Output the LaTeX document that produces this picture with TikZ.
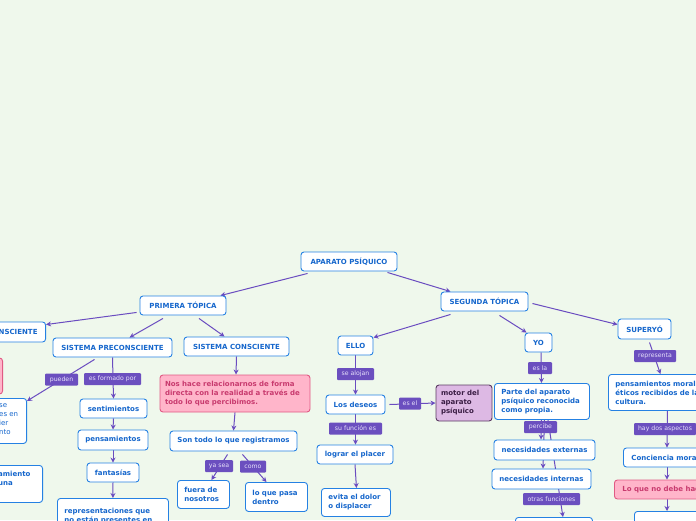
\documentclass[tikz,border=0pt]{standalone}
\usepackage{fontspec}
\setmainfont{DejaVu Sans}
\usetikzlibrary{arrows.meta}
\definecolor{bgc}{HTML}{EFF8EC}
\definecolor{nodeblue}{HTML}{2581E3}
\definecolor{textblue}{HTML}{1566CC}
\definecolor{conncol}{HTML}{6A4CC0}
\definecolor{labfill}{HTML}{6B4FBF}
\definecolor{labtext}{HTML}{E6E0FA}
\definecolor{pinkfill}{HTML}{FFB5CA}
\definecolor{pinkdraw}{HTML}{E05A84}
\definecolor{pinktext}{HTML}{C83A6E}
\definecolor{motfill}{HTML}{DDB9E4}
\definecolor{motdraw}{HTML}{5B3B63}
\definecolor{mottext}{HTML}{3A1D44}
\pgfdeclarelayer{bglayer}
\pgfdeclarelayer{edges}
\pgfsetlayers{bglayer,edges,main}
\tikzset{
  box/.style={draw=nodeblue, fill=white, rounded corners=3pt, line width=0.9pt,
    font=\bfseries\fontsize{7}{9}\selectfont, text=textblue, inner sep=0pt, align=center},
  mbox/.style={box, align=left, inner xsep=7pt, inner ysep=0pt},
  pinkbox/.style={box, draw=pinkdraw, fill=pinkfill, text=pinktext},
  motbox/.style={box, draw=motdraw, fill=motfill, text=mottext},
  lab/.style={fill=labfill, text=labtext, font=\fontsize{6.2}{7}\selectfont,
    rounded corners=1pt, inner sep=0pt, minimum height=12pt},
  conn/.style={draw=conncol, line width=1pt, -{Stealth[length=5pt,width=5pt]}},
  plain/.style={draw=conncol, line width=1pt}
}
\begin{document}
\begin{tikzpicture}[x=1pt,y=-1pt]
\useasboundingbox (0,0) rectangle (696,520);
\begin{pgfonlayer}{bglayer}
\fill[bgc] (0,0) rectangle (696,520);
\end{pgfonlayer}
\clip (0,0) rectangle (696,520);

% top level
\node[box, minimum width=96, minimum height=19] (ap) at (349,261.5) {APARATO PSÍQUICO};
\node[box, minimum width=86, minimum height=19] (pt) at (183,305.5) {PRIMERA TÓPICA};
\node[box, minimum width=87, minimum height=19] (st) at (484.5,301.5) {SEGUNDA TÓPICA};

% primera topica
\node[box, anchor=east, inner xsep=8pt, minimum height=20] (inc) at (46,332) {SISTEMA INCONSCIENTE};
\node[box, minimum width=119, minimum height=19] (pre) at (112.5,347.5) {SISTEMA PRECONSCIENTE};
\node[box, minimum width=105, minimum height=19] (con) at (236.5,346.5) {SISTEMA CONSCIENTE};
\node[pinkbox, anchor=east, minimum width=60, minimum height=36] (pinkl) at (3,376) {};
\node[box, anchor=north east, minimum width=50, minimum height=45] (sebox) at (27,398) {};
\node[anchor=north west, inner sep=0pt, align=left, text=textblue,
  font=\fontsize{7}{9}\selectfont] (setxt) at (-1,403) {se\\es en\\ier\\nto};
\node[box, anchor=north east, minimum width=60, minimum height=37] (ambox) at (43,465) {};
\node[anchor=north west, inner sep=0pt, align=left, text=textblue,
  font=\bfseries\fontsize{7}{9}\selectfont] (amtxt) at (-2,471) {amiento\\una};

\node[box, minimum width=67, minimum height=19] (sen) at (113.5,408.5) {sentimientos};
\node[box, minimum width=70, minimum height=20] (pen) at (113,440) {pensamientos};
\node[box, minimum width=52, minimum height=19] (fan) at (113,472.5) {fantasías};
\node[mbox, anchor=north west, minimum width=111, minimum height=38, text width=97] (rep) at (57,498)
  {\rule{0pt}{10pt}representaciones que\\no están presentes en\\la realidad};

\node[pinkbox, align=left, minimum width=150, minimum height=37, text width=140] (pk) at (235,393.5)
  {Nos hace relacionarnos de forma\\directa con la realidad a través de\\todo lo que percibimos.};
\node[box, minimum width=127, minimum height=20] (son) at (233.5,441) {Son todo lo que registramos};
\node[mbox, anchor=north west, minimum width=52, minimum height=28, text width=38] (fue) at (177,480) {fuera de\\nosotros};
\node[mbox, anchor=north west, minimum width=62, minimum height=29, text width=48] (den) at (245,482) {lo que pasa\\dentro};

% segunda topica
\node[box, minimum width=35, minimum height=19] (ello) at (355.5,345.5) {ELLO};
\node[box, minimum width=59, minimum height=19] (des) at (355.5,404.5) {Los deseos};
\node[motbox, align=left, minimum width=56, minimum height=36, text width=46] (mot) at (464,403) {motor del\\aparato\\psíquico};
\node[box, minimum width=76, minimum height=19] (log) at (355,454.5) {lograr el placer};
\node[mbox, anchor=north west, minimum width=69, minimum height=28, text width=55] (evi) at (321,488) {evita el dolor\\o displacer};

\node[box, minimum width=27, minimum height=19] (yo) at (538.5,342.5) {YO};
\node[mbox, anchor=north west, minimum width=95, minimum height=36, text width=81] (par) at (494,383)
  {Parte del aparato\\psíquico reconocida\\como propia.};
\node[box, minimum width=101, minimum height=20] (ext) at (544.5,450) {necesidades externas};
\node[box, minimum width=99, minimum height=20] (int) at (541.5,479) {necesidades internas};
\node[box, anchor=north west, minimum width=77, minimum height=20] (yob) at (515,517) {};

\node[box, minimum width=53, minimum height=20] (sup) at (644.5,329) {SUPERYÓ};
\node[mbox, anchor=north west, minimum width=112, minimum height=36, text width=98] (pmo) at (608,374)
  {pensamientos morales y\\éticos recibidos de la\\cultura.};
\node[box, anchor=west, inner xsep=8pt, minimum height=19] (cmo) at (623,457.5) {Conciencia moral};
\node[pinkbox, anchor=west, inner xsep=8pt, minimum height=19] (nod) at (614,489.5) {Lo que no debe hacer};
\node[box, anchor=north west, minimum width=80, minimum height=20] (spb) at (634,511) {};

% connectors
\begin{pgfonlayer}{edges}
\draw[conn] ([xshift=7pt,yshift=-2pt]ap.south west) -- ([xshift=-6pt]pt.north east);
\draw[conn] ([xshift=-10pt,yshift=-1pt]ap.south east) -- ([xshift=10pt]st.north west);
\draw[conn] ([xshift=-3pt,yshift=3pt]pt.south west) -- ([yshift=-3pt]inc.north east);
\draw[conn] ([xshift=-20pt,yshift=-3pt]pt.south) -- ([xshift=17pt]pre.north);
\draw[conn] ([xshift=16pt,yshift=-3pt]pt.south) -- ([xshift=-12pt]con.north);
\draw[conn] ([xshift=-34pt,yshift=-3pt]st.south) -- ([yshift=-2pt]ello.north east);
\draw[conn] ([xshift=15pt,yshift=-4pt]st.south) -- ([xshift=2pt]yo.north west);
\draw[conn] ([xshift=4pt,yshift=-2pt]st.east) -- ([yshift=-6pt]sup.north west);

\draw[conn] ([xshift=-18pt,yshift=-2pt]pre.south) -- ([yshift=-3pt]sebox.north east);
\draw[conn] (pre.south) -- (sen.north);
\draw[conn] (sen.south) -- (pen.north);
\draw[conn] (pen.south) -- (fan.north);
\draw[conn] (fan.south) -- (rep.north);

\draw[conn] (con.south) -- ([xshift=1pt]pk.north);
\draw[conn] (pk.south) -- (son.north);
\draw[conn] ([xshift=-6pt,yshift=-3pt]son.south) -- ([xshift=8pt]fue.north);
\draw[conn] ([xshift=9pt,yshift=-3pt]son.south) -- ([xshift=-10pt]den.north);

\draw[conn] (ello.south) -- (des.north);
\draw[conn] ([xshift=4pt]des.east) -- (mot.west);
\draw[conn] (des.south) -- ([xshift=0.5pt]log.north);
\draw[conn] (log.south) -- ([xshift=0.5pt]evi.north);

\draw[conn] ([xshift=2.5pt]yo.south) -- ([xshift=-0.5pt]par.north);
\draw[conn] ([xshift=-0.5pt]par.south) -- ([xshift=-3.5pt]ext.north);
\draw[conn] ([xshift=2.5pt]par.south) -- ([xshift=1.5pt]int.north);
\draw[conn] ([xshift=6pt]par.south) -- ([xshift=9pt]yob.north);

\draw[conn] ([xshift=5pt,yshift=-3pt]sup.south) -- ([xshift=-4pt]pmo.north);
\draw[conn] ([xshift=3pt]pmo.south) -- ([xshift=44pt]cmo.west |- cmo.north);
\draw[conn] ([xshift=44pt]cmo.west |- cmo.south) -- ([xshift=53pt]nod.west |- nod.north);
\draw[conn] ([xshift=53pt]nod.west |- nod.south) -- ([xshift=33pt]spb.north west);
\end{pgfonlayer}

% labels
\node[lab, minimum width=33] (l1) at (61.5,379.5) {pueden};
\node[lab, minimum width=57] (l2) at (112.5,379) {es formado por};
\node[lab, minimum width=28] (l3) at (219,466) {ya sea};
\node[lab, minimum width=26] (l4) at (253,466.5) {como};
\node[lab, minimum width=37] (l5) at (355.5,374) {se alojan};
\node[lab, minimum width=22] (l6) at (410,403.5) {es el};
\node[lab, minimum width=53] (l7) at (355.5,428.5) {su función es};
\node[lab, minimum width=24] (l8) at (540,368) {es la};
\node[lab, minimum width=33] (l9) at (540.5,427) {percibe};
\node[lab, minimum width=57] (l10) at (551.5,499) {otras funciones};
\node[lab, minimum width=42] (l11) at (655,356) {representa};
\node[lab, minimum width=62] (l12) at (665,429) {hay dos aspectos};
\end{tikzpicture}
\end{document}
